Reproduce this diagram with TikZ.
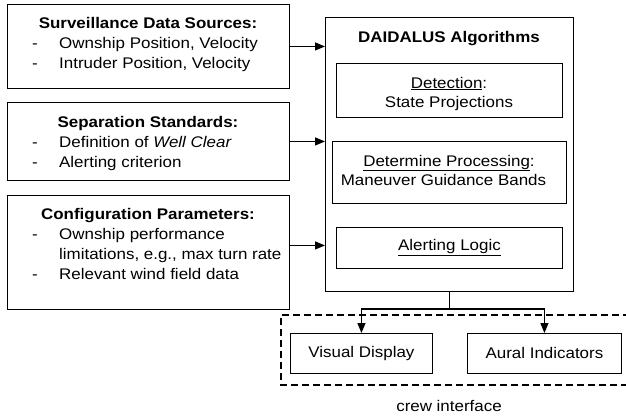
\documentclass[tikz,border=0pt]{standalone}
\usepackage{fontspec}
\setmainfont{Liberation Sans}[FakeStretch=1.1]
\usetikzlibrary{arrows.meta, positioning, calc}

\begin{document}
\begin{tikzpicture}[x=1pt, y=-1pt, every node/.style={font=\fontsize{15.4}{20}\selectfont, inner sep=0pt},
  box/.style={draw, rectangle, line width=0.9pt, anchor=north west},
  arr/.style={-{Triangle[length=10pt,width=8pt]}, line width=1.2pt},
  frame/.style={dashed, dash pattern=on 7pt off 4pt, line width=1.2pt}]
\useasboundingbox (0,0) rectangle (626,415);

% inputs on the left
\node (sources) [box, minimum width=282pt, minimum height=84pt] at (7,4) {};
\node (sourcesttl) [anchor=base] at (148,28) {\textbf{Surveillance Data Sources:}};
\node (sourceslst) [anchor=base west] at (32,48) {\begin{tabular}[t]{@{}p{27pt}@{}l@{}}
  -&Ownship Position, Velocity\\ -&Intruder Position, Velocity\end{tabular}};

\node (standards) [box, minimum width=282pt, minimum height=78pt] at (7,102) {};
\node (standardsttl) [anchor=base] at (148,127) {\textbf{Separation Standards:}};
\node (standardslst) [anchor=base west] at (32,147) {\begin{tabular}[t]{@{}p{27pt}@{}l@{}}
  -&Definition of \textit{Well Clear}\\ -&Alerting criterion\end{tabular}};

\node (config) [box, minimum width=282pt, minimum height=114pt] at (7,195) {};
\node (configttl) [anchor=base] at (148,219) {\textbf{Configuration Parameters:}};
\node (configlst) [anchor=base west] at (32,239) {\begin{tabular}[t]{@{}p{27pt}@{}l@{}}
  -&Ownship performance\\ &limitations, e.g., max turn rate\\ -&Relevant wind field data\end{tabular}};

% DAIDALUS block
\node (daidalus) [box, minimum width=248pt, minimum height=274pt] at (325,17) {};
\node (daidalusttl) [anchor=base] at (449,42) {\textbf{DAIDALUS Algorithms}};

\node (detection) [box, minimum width=226pt, minimum height=54pt] at (336,63) {};
\node (detectionttl) [anchor=base] at (449,88) {\underline{Detection}:};
\node (detectiontxt) [anchor=base] at (449,107) {State Projections};

\node (processing) [box, minimum width=234pt, minimum height=62pt] at (332,141) {};
\node (processingttl) [anchor=base] at (449,166) {\underline{Determine Processing}:};
\node (processingtxt) [anchor=base] at (443.5,185) {Maneuver Guidance Bands};

\node (alerting) [box, minimum width=226pt, minimum height=41pt] at (336,227) {\underline{Alerting Logic}};

% crew interface
\node (visual) [box, minimum width=142pt, minimum height=40pt] at (290,333) {Visual Display};
\node (aural) [box, minimum width=154pt, minimum height=40pt] at (467,333) {Aural Indicators};
\coordinate (crewnw) at (281,315);
\coordinate (crewsw) at (281,385);
\draw[frame] (crewnw -| 630,0) -- (crewnw) -- (crewsw) -- (crewsw -| 630,0);
\node (crew) [anchor=base] at (449,411) {crew interface};

\draw[arr] (sources.east) -- (sources.east -| daidalus.west);
\draw[arr] (standards.east) -- (standards.east -| daidalus.west);
\draw[arr] ([yshift=7pt]config.east) -- ([yshift=7pt]config.east -| daidalus.west);
\draw[arr] (daidalus.south) -- ++(0,17) -| (visual.north);
\draw[arr] (daidalus.south) -- ++(0,17) -| (aural.north);
\end{tikzpicture}
\end{document}
